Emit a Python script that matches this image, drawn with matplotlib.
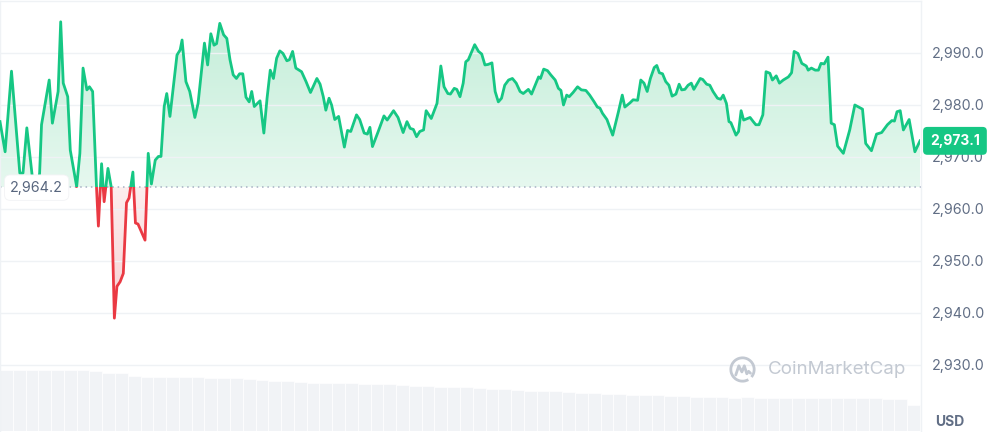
import numpy as np
import matplotlib
matplotlib.use('Agg')
import matplotlib.pyplot as plt
import matplotlib.transforms as mtransforms
from matplotlib.colors import LinearSegmentedColormap
from matplotlib.path import Path
from matplotlib.patches import Rectangle, Arc
from matplotlib.ticker import FuncFormatter

plt.rcParams['font.family'] = ['Inter', 'DejaVu Sans']

# 24h price, minutes since start
minutes = [0, 8, 18, 23, 31, 36, 42, 50, 53, 58, 62, 65, 77, 82, 91, 95, 99, 106, 110, 120,
           125, 130, 136, 140, 145, 151, 154, 159, 163, 169, 174, 179, 183, 188, 193, 198, 202, 208, 212, 216,
           227, 232, 237, 243, 248, 252, 257, 261, 266, 277, 282, 285, 291, 297, 305, 310, 320, 325, 330, 335,
           339, 344, 350, 355, 360, 365, 370, 375, 380, 385, 390, 394, 398, 407, 413, 418, 423, 428, 433, 438,
           443, 449, 453, 458, 463, 472, 479, 486, 496, 501, 506, 510, 515, 519, 524, 530, 539, 544, 549, 558,
           563, 570, 575, 579, 583, 592, 601, 606, 616, 623, 631, 637, 642, 647, 652, 657, 663, 667, 675, 684,
           690, 695, 701, 705, 711, 715, 720, 725, 729, 733, 743, 749, 754, 759, 764, 770, 775, 780, 785, 790,
           796, 802, 808, 814, 819, 827, 832, 839, 843, 846, 851, 857, 862, 869, 874, 878, 882, 887, 891, 897,
           904, 910, 917, 923, 930, 935, 939, 943, 950, 959, 968, 974, 978, 986, 991, 998, 1003, 1008, 1013, 1018,
           1024, 1028, 1032, 1037, 1042, 1047, 1052, 1058, 1063, 1067, 1072, 1077, 1082, 1086, 1096, 1100, 1106, 1111, 1116, 1123,
           1128, 1132, 1137, 1141, 1144, 1152, 1156, 1160, 1164, 1174, 1179, 1183, 1188, 1194, 1199, 1205, 1209, 1215, 1220, 1226,
           1234, 1239, 1243, 1249, 1255, 1262, 1265, 1270, 1276, 1281, 1285, 1290, 1296, 1301, 1306, 1311, 1320, 1330, 1338, 1350,
           1355, 1364, 1372, 1380, 1389, 1396, 1400, 1404, 1409, 1414, 1423, 1432, 1440]
price = [2976.8, 2971.0, 2986.5, 2979.0, 2966.9, 2966.9, 2975.6, 2966.9, 2963.5, 2963.5, 2966.9, 2976.2, 2984.8, 2976.5, 2982.6, 2996.0, 2984.2, 2981.6, 2971.3, 2964.3,
         2970.7, 2987.1, 2982.9, 2983.5, 2982.6, 2964.3, 2956.7, 2968.7, 2961.4, 2967.8, 2964.3, 2939.0, 2945.1, 2946.0, 2947.6, 2961.2, 2962.1, 2967.1, 2957.3, 2957.1,
         2954.0, 2970.7, 2964.8, 2969.4, 2970.1, 2970.1, 2979.7, 2982.2, 2977.8, 2989.6, 2990.6, 2992.5, 2984.5, 2982.6, 2977.6, 2980.3, 2991.9, 2987.7, 2993.7, 2991.5,
         2991.8, 2995.7, 2993.5, 2992.8, 2988.7, 2985.8, 2985.1, 2986.0, 2986.0, 2981.5, 2980.6, 2982.6, 2979.7, 2980.8, 2974.6, 2981.3, 2986.7, 2985.1, 2989.0, 2990.4,
         2989.9, 2988.5, 2988.7, 2990.3, 2987.1, 2986.4, 2984.5, 2982.4, 2985.1, 2984.0, 2981.6, 2979.0, 2981.3, 2980.0, 2977.2, 2977.8, 2971.9, 2975.1, 2974.9, 2978.1,
         2977.2, 2974.6, 2974.4, 2975.7, 2972.0, 2974.9, 2977.9, 2977.1, 2978.9, 2977.6, 2974.7, 2976.8, 2975.5, 2975.3, 2973.9, 2974.9, 2975.2, 2978.9, 2977.4, 2980.3,
         2987.5, 2983.5, 2982.2, 2982.1, 2983.2, 2983.0, 2981.6, 2984.2, 2988.3, 2988.7, 2991.6, 2990.3, 2989.8, 2987.7, 2987.8, 2988.1, 2982.6, 2980.6, 2981.3, 2983.8,
         2984.8, 2985.1, 2984.2, 2982.6, 2982.2, 2983.0, 2982.1, 2984.2, 2985.4, 2985.1, 2986.9, 2986.6, 2985.8, 2984.8, 2983.2, 2982.8, 2980.0, 2981.9, 2981.6, 2982.4,
         2983.5, 2982.9, 2982.8, 2981.9, 2980.6, 2979.6, 2979.4, 2978.4, 2977.2, 2974.2, 2978.7, 2981.9, 2979.6, 2980.4, 2981.0, 2980.9, 2984.8, 2984.2, 2982.6, 2985.1,
         2987.2, 2987.6, 2986.2, 2986.0, 2984.5, 2983.8, 2981.7, 2982.1, 2984.0, 2982.9, 2983.0, 2983.8, 2984.2, 2983.0, 2985.1, 2984.9, 2984.0, 2983.8, 2982.6, 2981.3,
         2981.1, 2981.9, 2980.3, 2976.8, 2976.6, 2974.2, 2974.9, 2978.9, 2977.1, 2977.6, 2976.8, 2976.2, 2976.2, 2978.1, 2986.4, 2986.1, 2984.8, 2985.6, 2984.2, 2984.8,
         2985.4, 2986.2, 2990.3, 2989.9, 2988.0, 2987.5, 2986.7, 2987.1, 2986.7, 2986.7, 2988.0, 2987.9, 2989.2, 2976.5, 2976.2, 2972.1, 2970.7, 2975.2, 2980.0, 2979.2,
         2972.6, 2971.2, 2974.4, 2974.7, 2976.2, 2977.0, 2976.9, 2978.7, 2978.9, 2975.2, 2977.2, 2971.0, 2973.1]
base_price = 2964.2
last_price = 2973.1

# volume, one bar per 20 minutes (billions)
vol_start = list(range(0, 1440, 20))
volume = [15.2, 15.3, 15.2, 15.3, 15.2, 15.3, 15.2, 14.9, 14.5, 14.4, 13.8, 13.6, 13.5, 13.5, 13.4, 13.4,
          13.3, 13.3, 13.2, 12.9, 12.7, 12.6, 12.6, 12.2, 12.0, 12.0, 11.9, 11.9, 11.8, 11.8, 11.7, 11.5,
          11.3, 11.2, 11.1, 11.0, 10.9, 10.7, 10.6, 10.4, 10.3, 10.1, 10.0, 9.9, 9.7, 9.6, 9.5, 9.3,
          9.2, 9.1, 9.0, 8.9, 8.8, 8.7, 8.6, 8.5, 8.4, 8.3, 8.4, 8.3, 8.2, 8.3, 8.3, 8.2,
          8.3, 8.2, 8.3, 8.2, 8.2, 8.1, 8.1, 6.5]
yticks = [2930, 2940, 2950, 2960, 2970, 2980, 2990]

green = '#16c784'
red = '#ea3943'
grey = '#616e85'

t = np.array(minutes, dtype=float)
p = np.array(price)
xmax = 1440 * 921 / 920

fig = plt.figure(figsize=(9.93, 4.32), dpi=100)

# volume underneath
axv = fig.add_axes([0, 1 / 432, 921 / 993, 70 / 432])
axv.bar(vol_start, volume, width=20, align='edge', color='#f1f3f6', edgecolor='white', linewidth=0.5)
axv.set_xlim(0, xmax)
axv.set_ylim(0, 17.5)
axv.axis('off')

ax = fig.add_axes([0, 0, 921 / 993, 431 / 432])
ax.patch.set_alpha(0)
ax.set_xlim(0, xmax)
ax.set_ylim(2917.1, 3000.0)

# gradient fill above the open price
up = ax.fill_between(t, p, base_price, where=p >= base_price, interpolate=True, color='none', lw=0)
cmap_up = LinearSegmentedColormap.from_list('up', ['#e6f8ef', '#c4eed9'])
grad = np.linspace(0, 1, 256).reshape(-1, 1)
im = ax.imshow(grad, cmap=cmap_up, aspect='auto', origin='lower',
               extent=[0, 1440, base_price, 2996.5], zorder=1)
im.set_clip_path(Path.make_compound_path(*up.get_paths()), ax.transData)

dn = ax.fill_between(t, p, base_price, where=p <= base_price, interpolate=True, color='none', lw=0)
cmap_dn = LinearSegmentedColormap.from_list('dn', ['#f7cfd2', '#fdeeee'])
im2 = ax.imshow(grad, cmap=cmap_dn, aspect='auto', origin='lower',
                extent=[0, 1440, 2939, base_price], zorder=1)
im2.set_clip_path(Path.make_compound_path(*dn.get_paths()), ax.transData)

# price line, green above / red below the open
lg, = ax.plot(t, p, color=green, lw=2.0, zorder=3, solid_joinstyle='round')
lr, = ax.plot(t, p, color=red, lw=2.0, zorder=3, solid_joinstyle='round')
clip_up = Rectangle((0, base_price), 1440, 60, transform=ax.transData)
clip_dn = Rectangle((0, 2900), 1440, base_price - 2900, transform=ax.transData)
lg.set_clip_path(clip_up)
lr.set_clip_path(clip_dn)

ax.axhline(base_price, color='#a6b0c3', lw=1.1, ls=(0, (1, 2.5)), zorder=2)

# grid / frame
ax.set_yticks(yticks)
ax.grid(axis='y', color='#eff2f5', lw=1, zorder=0)
ax.set_xticks([])
ax.yaxis.tick_right()
ax.yaxis.set_major_formatter(FuncFormatter(lambda v, pos: f'{v:,.1f}'))
ax.tick_params(axis='y', length=0, pad=8, labelsize=10.3, labelcolor=grey)
ax.spines['bottom'].set_visible(False)
for s in ['top', 'right', 'left']:
    ax.spines[s].set_color('#eff2f5')
    ax.spines[s].set_linewidth(1)

# open price label
ax.text(16, base_price - 0.1, f'{base_price:,.1f}', fontsize=10.3, color='#58667e', va='center', ha='left',
        zorder=5, bbox=dict(boxstyle='round,pad=0.4', fc='white', ec='#f2f3f5', lw=0.6))

# last price tag
trans = mtransforms.blended_transform_factory(ax.transAxes, ax.transData)
ax.text(1.0098, last_price, f'{last_price:,.1f}', transform=trans, fontsize=10, fontweight='bold',
        color='white', va='center', ha='left', clip_on=False, zorder=10,
        bbox=dict(boxstyle='round,pad=0.5,rounding_size=0.3', fc=green, ec='none'))

fig.text(935 / 993, 1 - 422 / 432, 'USD', fontsize=10, fontweight='bold', color=grey, va='center', ha='left')

# watermark
fig.text(768 / 993, 1 - 370 / 432, 'CoinMarketCap', fontsize=13.5, color='#c3c9d2', va='center', ha='left')
axl = fig.add_axes([729 / 993, (432 - 383) / 432, 27 / 993, 27 / 432])
axl.set_xlim(-1.1, 1.1)
axl.set_ylim(-1.1, 1.1)
axl.set_aspect('equal')
axl.axis('off')
axl.add_patch(Arc((0, 0), 1.9, 1.9, theta1=-40, theta2=300, color='#c3c9d2', lw=2))
axl.plot([-0.55, -0.3, -0.05, 0.15, 0.35, 0.5, 0.65], [-0.45, 0.3, -0.2, 0.3, -0.35, -0.15, -0.3],
         color='#c3c9d2', lw=2, solid_joinstyle='round', solid_capstyle='round')

fig.savefig('out.png', dpi=100)
